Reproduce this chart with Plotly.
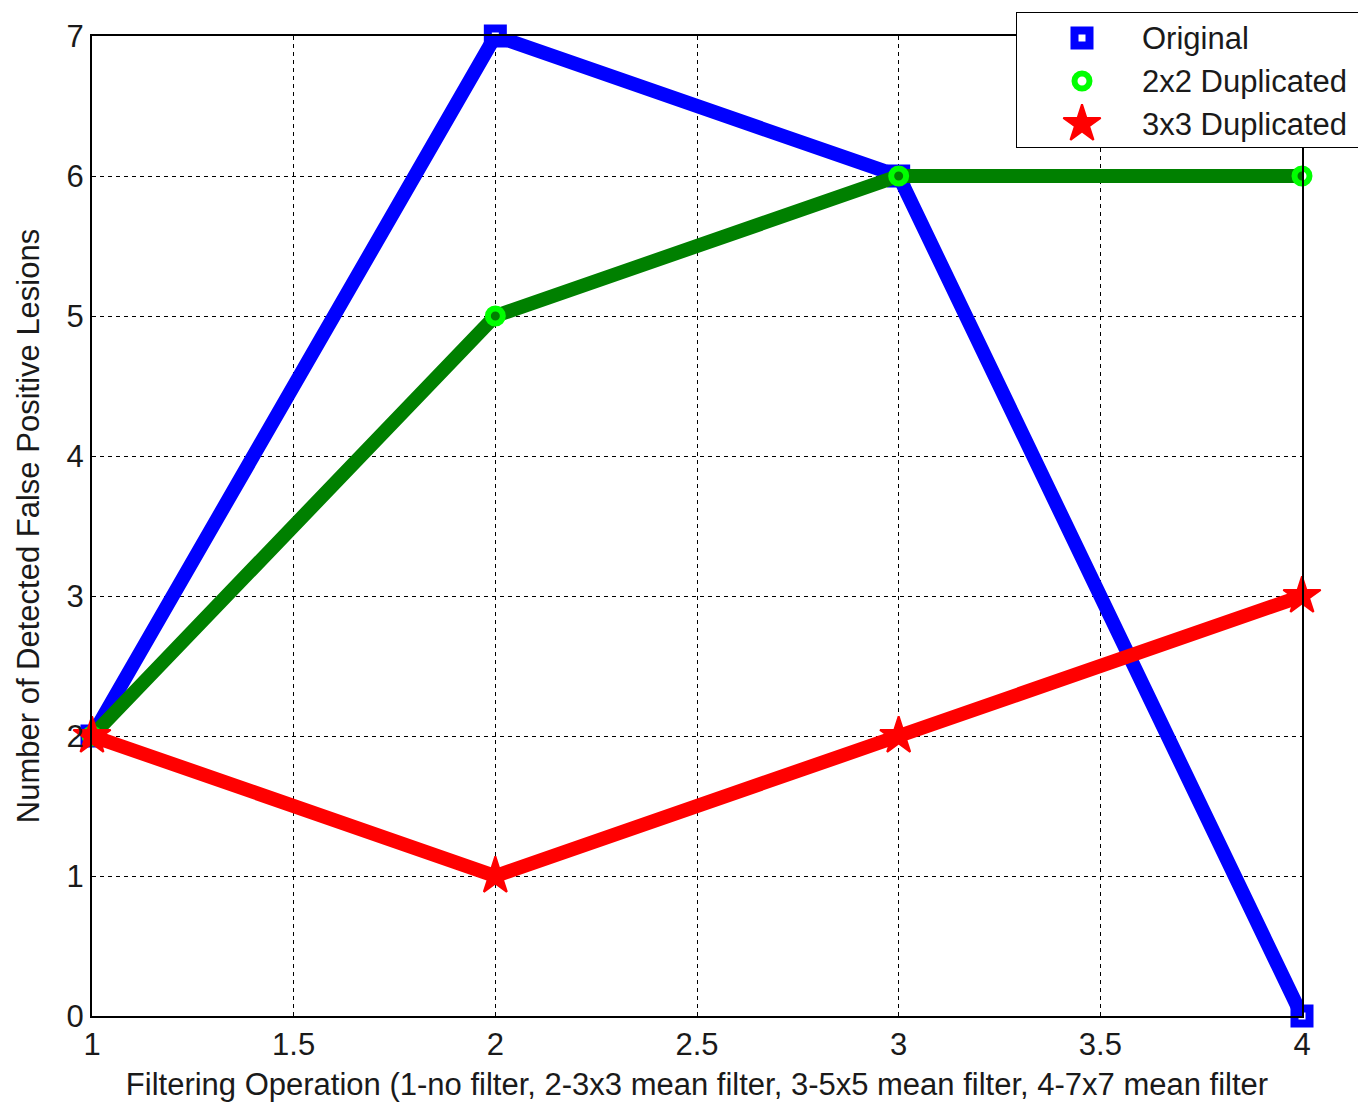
import plotly.graph_objects as go

# Filtering operation index (1-no filter, 2-3x3, 3-5x5, 4-7x7 mean filter)
filter_ops = [1, 2, 3, 4]
original = [2, 7, 6, 0]
dup_2x2 = [2, 5, 6, 6]
dup_3x3 = [2, 1, 2, 3]

series_names = ["Original", "2x2 Duplicated", "3x3 Duplicated"]
x_ticks = [1, 1.5, 2, 2.5, 3, 3.5, 4]
y_ticks = [0, 1, 2, 3, 4, 5, 6, 7]

FONT = "Liberation Sans"
FS = 31
TXT = "#1a1a1a"

W, H = 1358, 1103
ML, MT, MB = 92, 12, 87
PLOT_W = 1210
PLOT_H = 980
PAPER_W = W - ML
PAPER_H = H - MT - MB

styles = [
    dict(line=dict(color="#0000FF", width=14),
         marker=dict(symbol="square-open", size=15, color="#0000FF",
                     line=dict(width=8, color="#0000FF"))),
    dict(line=dict(color="#008000", width=14),
         marker=dict(symbol="circle-open", size=15, color="#00FF00",
                     line=dict(width=6, color="#00FF00"))),
    dict(line=dict(color="#FF0000", width=14),
         marker=dict(symbol="star", size=28, color="#FF0000",
                     line=dict(width=2, color="#FF0000"))),
]

fig = go.Figure()
for name, ys, st in zip(series_names, [original, dup_2x2, dup_3x3], styles):
    fig.add_trace(go.Scatter(x=filter_ops, y=ys, mode="lines+markers", name=name,
                             line=st["line"], marker=st["marker"],
                             cliponaxis=False, showlegend=False))

# Legend box drawn on its own overlay axes
leg_x0, leg_x1, leg_y0, leg_y1 = 1016, 1358, 12, 148
leg_rows = [38, 81, 124]
for name, yrow, st in zip(series_names, leg_rows, styles):
    fig.add_trace(go.Scatter(x=[1082], y=[yrow], mode="markers", marker=st["marker"],
                             xaxis="x2", yaxis="y2", showlegend=False,
                             cliponaxis=False, hoverinfo="skip"))
    fig.add_annotation(x=1140, y=yrow, xref="x2", yref="y2", text=name,
                       showarrow=False, xanchor="left", yanchor="middle",
                       font=dict(family=FONT, size=FS, color=TXT))

fig.add_shape(type="rect", xref="x2", yref="y2", x0=leg_x0, x1=leg_x1 + 10,
              y0=leg_y0, y1=leg_y1, line=dict(color="black", width=2),
              fillcolor="white", layer="below")

axis_common = dict(showline=True, linecolor="black", linewidth=2, mirror=True,
                   showgrid=True, gridcolor="black", gridwidth=1, griddash="4px,4px",
                   zeroline=False, ticks="", automargin=False,
                   tickfont=dict(family=FONT, size=FS, color=TXT))

fig.update_layout(
    width=W, height=H,
    margin=dict(l=ML, r=0, t=MT, b=MB, autoexpand=False),
    paper_bgcolor="white", plot_bgcolor="white",
    showlegend=False,
    xaxis=dict(axis_common, domain=[0, PLOT_W / PAPER_W], range=[1, 4],
               tickvals=x_ticks, ticktext=[f"{v:g}" for v in x_ticks],
               title=dict(text="Filtering Operation (1-no filter, 2-3x3 mean filter, 3-5x5 mean filter, 4-7x7 mean filter",
                          font=dict(family=FONT, size=FS, color=TXT), standoff=12)),
    yaxis=dict(axis_common, domain=[0, PLOT_H / PAPER_H], range=[0, 7],
               tickvals=y_ticks, ticktext=[str(v) for v in y_ticks],
               title=dict(text="Number of Detected False Positive Lesions",
                          font=dict(family=FONT, size=FS, color=TXT), standoff=18)),
    xaxis2=dict(domain=[(leg_x0 - ML) / PAPER_W, 1], range=[leg_x0, W],
                visible=False, fixedrange=True),
    yaxis2=dict(domain=[(H - MB - leg_y1) / PAPER_H, 1], range=[leg_y1, leg_y0],
                visible=False, fixedrange=True),
)

fig.write_html("out.html")
